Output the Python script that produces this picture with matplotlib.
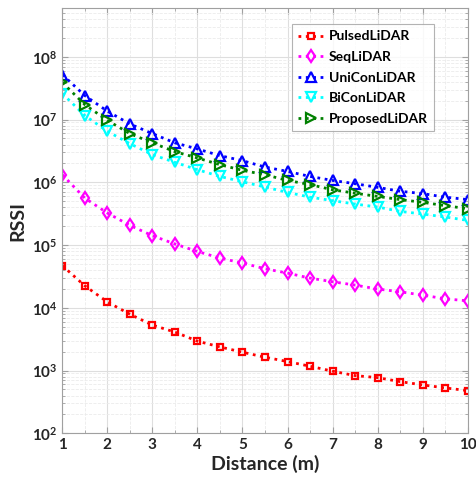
import numpy as np
import matplotlib
matplotlib.use('Agg')
import matplotlib.pyplot as plt
from matplotlib.ticker import LogLocator, MultipleLocator, FixedLocator, NullFormatter

plt.rcParams['font.family'] = ['Lato', 'DejaVu Sans']
plt.rcParams['font.weight'] = 'bold'
plt.rcParams['mathtext.fontset'] = 'custom'
plt.rcParams['mathtext.rm'] = 'Lato:bold'
plt.rcParams['mathtext.bf'] = 'Lato:bold'
plt.rcParams['mathtext.default'] = 'bf'

# distance (m)
distance = [1, 1.5, 2, 2.5, 3, 3.5, 4, 4.5, 5, 5.5, 6, 6.5, 7, 7.5, 8, 8.5, 9, 9.5, 10]

pulsed = [4.7e4, 2.24e4, 1.24e4, 7.9e3, 5.3e3, 4.1e3, 2.94e3, 2.38e3, 1.96e3, 1.63e3,
          1.39e3, 1.17e3, 976, 830, 771, 665, 590, 528, 479]
seq = [1.32e6, 5.6e5, 3.24e5, 2.06e5, 1.41e5, 1.04e5, 7.9e4, 6.2e4, 5.16e4, 4.19e4,
       3.57e4, 2.97e4, 2.6e4, 2.3e4, 1.99e4, 1.8e4, 1.59e4, 1.39e4, 1.29e4]
unicon = [5.2e7, 2.41e7, 1.36e7, 8.5e6, 5.97e6, 4.25e6, 3.4e6, 2.66e6, 2.21e6, 1.75e6,
          1.49e6, 1.24e6, 1.07e6, 9.5e5, 8.3e5, 7.2e5, 6.6e5, 5.8e5, 5.3e5]
bicon = [2.6e7, 1.16e7, 6.5e6, 4.13e6, 2.76e6, 2.08e6, 1.59e6, 1.24e6, 1.02e6, 8.4e5,
         6.9e5, 5.8e5, 5.1e5, 4.5e5, 4.04e5, 3.44e5, 3.12e5, 2.8e5, 2.47e5]
proposed = [3.9e7, 1.73e7, 9.7e6, 5.97e6, 4.25e6, 3.08e6, 2.44e6, 1.91e6, 1.55e6, 1.32e6,
            1.07e6, 9.2e5, 7.6e5, 6.7e5, 5.96e5, 5.3e5, 4.8e5, 4.24e5, 3.8e5]

series = [
    ('PulsedLiDAR', pulsed, 'red', 's', 5),
    ('SeqLiDAR', seq, 'magenta', 'd', 6),
    ('UniConLiDAR', unicon, 'blue', '^', 6.5),
    ('BiConLiDAR', bicon, 'cyan', 'v', 6.5),
    ('ProposedLiDAR', proposed, '#008000', '>', 6.5),
]

fig = plt.figure(figsize=(4.77, 4.84), dpi=100)
ax = fig.add_axes([0.1306, 0.1048, 0.8499, 0.8787])

for name, vals, col, mk, ms in series:
    ax.plot(distance, vals, linestyle=':', color=col, linewidth=2, marker=mk,
            markersize=ms, markerfacecolor='none', markeredgewidth=1.6, label=name)

ax.set_yscale('log')
ax.set_xlim(1, 10)
ax.set_ylim(1e2, 6e8)
ax.set_xticks(range(1, 11))
ax.xaxis.set_minor_locator(MultipleLocator(0.5))
ax.yaxis.set_major_locator(FixedLocator([1e2, 1e3, 1e4, 1e5, 1e6, 1e7, 1e8]))
ax.yaxis.set_minor_locator(LogLocator(base=10, subs=np.arange(2, 10), numticks=20))
ax.yaxis.set_minor_formatter(NullFormatter())

ax.grid(True, which='major', color='#dedede', linewidth=0.8)
ax.grid(True, which='minor', color='#ebebeb', linewidth=0.6, linestyle='--')
ax.set_axisbelow(True)

for s in ax.spines.values():
    s.set_color('#a0a0a0')
    s.set_linewidth(0.8)
ax.tick_params(which='both', direction='in', top=True, right=True, colors='#a0a0a0',
               labelcolor='#262626', labelsize=11)
ax.tick_params(which='major', length=4)
ax.tick_params(which='minor', length=2)

ax.set_xlabel('Distance (m)', fontsize=14, fontweight='bold', color='#262626', labelpad=2)
ax.set_ylabel('RSSI', fontsize=14, fontweight='bold', color='#262626', labelpad=4)

leg = ax.legend(loc='upper right', bbox_to_anchor=(0.917, 0.962), fontsize=10,
                frameon=True, fancybox=False, edgecolor='#a0a0a0', handlelength=1.8,
                borderpad=0.45, labelspacing=0.62, handletextpad=0.4, borderaxespad=0)
leg.get_frame().set_linewidth(0.8)

fig.savefig('out.png', dpi=100)
